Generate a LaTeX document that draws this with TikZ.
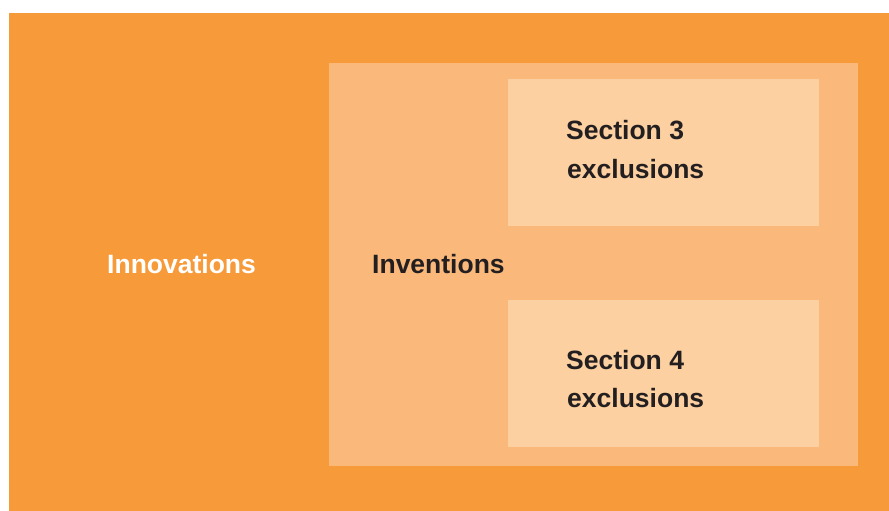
\documentclass[tikz,border=0pt]{standalone}
\usepackage{fontspec}
\setmainfont{Liberation Sans}
\definecolor{outerC}{RGB}{247,154,58}
\definecolor{innerC}{RGB}{250,185,122}
\definecolor{boxC}{RGB}{252,208,160}
\definecolor{textC}{RGB}{35,31,32}
\begin{document}
\begin{tikzpicture}[x=1pt,y=-1pt,
  lbl/.style={font=\bfseries\fontsize{26.5}{39}\selectfont, inner sep=0pt, align=left, anchor=base west},
  region/.style={draw=none, inner sep=0pt}]
\useasboundingbox (0,0) rectangle (889,511);
\fill[outerC] (9,13) rectangle (889,511);
\fill[innerC] (329,63) rectangle (858,466);
\fill[boxC] (508,79) rectangle (819,226);
\fill[boxC] (508,300) rectangle (819,447);
\node[lbl, text=white] (innov) at (107,273) {Innovations};
\node[lbl, text=textC] (invent) at (372,273) {Inventions};
\node[lbl, text=textC] (sec3) at (566,139) {Section 3};
\node[lbl, text=textC] (sec3b) at (567,178) {exclusions};
\node[lbl, text=textC] (sec4) at (566,369) {Section 4};
\node[lbl, text=textC] (sec4b) at (567,407) {exclusions};
\end{tikzpicture}
\end{document}
